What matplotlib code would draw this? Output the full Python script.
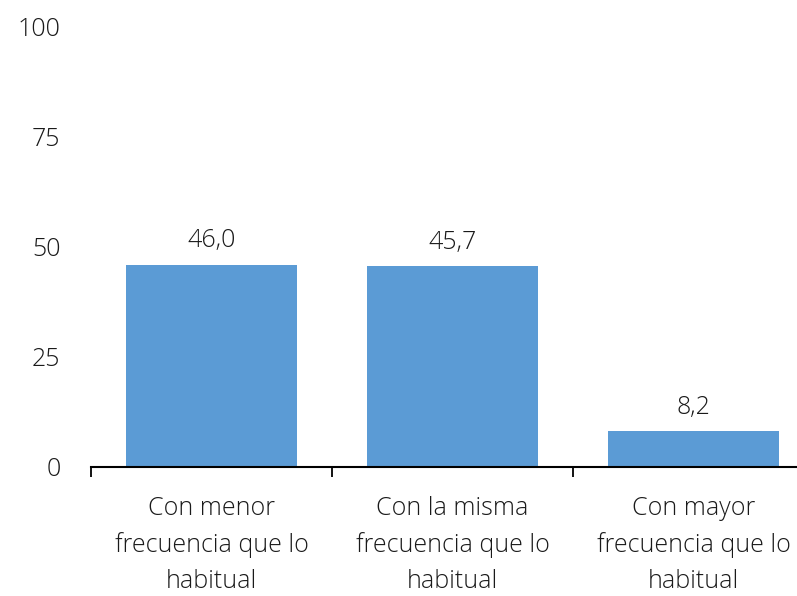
import matplotlib
matplotlib.use("Agg")
import matplotlib.pyplot as plt
from matplotlib.ticker import FixedLocator

plt.rcParams['font.family'] = ['Open Sans', 'DejaVu Sans']
plt.rcParams['font.weight'] = 'light'

# data
categorias = ['Con menor\nfrecuencia que lo\nhabitual',
              'Con la misma\nfrecuencia que lo\nhabitual',
              'Con mayor\nfrecuencia que lo\nhabitual']
valores = [46.0, 45.7, 8.2]
etiquetas = ['46,0', '45,7', '8,2']
yticks = [0, 25, 50, 75, 100]

fig = plt.figure(figsize=(7.97, 5.96), dpi=100)
ax = fig.add_axes([91/797, 129/596, 723/797, 440/596])

x = range(len(valores))
bars = ax.bar(x, valores, width=0.71, color='#5B9BD5', zorder=2)
for b, t in zip(bars, etiquetas):
    ax.annotate(t, (b.get_x() + b.get_width()/2, b.get_height()),
                xytext=(0, 8), textcoords='offset points',
                ha='center', va='bottom', fontsize=18, color='#1a1a1a')

ax.set_xlim(-0.5, 2.5)
ax.set_ylim(0, 100)
ax.set_yticks(yticks)
ax.set_yticklabels([str(v) for v in yticks])
ax.set_xticks(list(x))
ax.set_xticklabels(categorias, fontsize=18, color='#1a1a1a', linespacing=1.55)
ax.xaxis.set_minor_locator(FixedLocator([-0.5, 0.5, 1.5, 2.5]))
ax.tick_params(axis='x', which='major', length=0, pad=21)
ax.tick_params(axis='x', which='minor', length=7, width=1.3, direction='out', color='black')
ax.tick_params(axis='y', length=0, pad=22, labelsize=18, labelcolor='#1a1a1a')

for s in ['top', 'right', 'left']:
    ax.spines[s].set_visible(False)
ax.spines['bottom'].set_linewidth(1.5)
ax.spines['bottom'].set_zorder(3)

fig.savefig('out.png', dpi=100)
